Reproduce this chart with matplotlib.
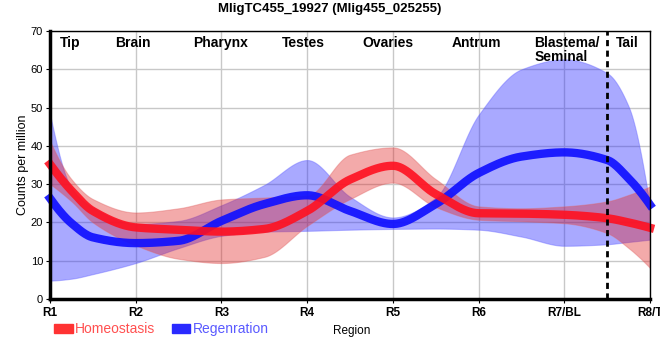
import numpy as np
import matplotlib
matplotlib.use("Agg")
import matplotlib.pyplot as plt
from matplotlib.patches import Patch

plt.rcParams['font.family'] = ['Liberation Sans', 'DejaVu Sans']

# positions along the body (1 = R1 ... 8 = R8/T)
pos = [1, 1.25, 1.5, 2, 2.5, 3, 3.5, 4, 4.5, 5, 5.5, 6, 6.5, 7, 7.5, 7.75, 8]

homeo_mean = [35.2, 28.3, 23.0, 18.7, 18.1, 17.6, 18.3, 23.0, 31.2, 34.8, 27.4,
              22.4, 22.3, 22.0, 21.1, 20.0, 18.6]
homeo_hi = [41.3, 31.3, 26.1, 22.6, 23.7, 26.0, 26.5, 27.0, 37.7, 39.6, 31.3,
            24.2, 23.7, 24.2, 25.5, 27.2, 29.4]
homeo_lo = [30.0, 25.5, 20.0, 14.0, 10.5, 9.4, 11.0, 19.1, 26.1, 30.4, 24.0,
            20.7, 20.3, 19.8, 17.2, 13.3, 8.1]

regen_mean = [26.3, 19.8, 16.1, 14.6, 15.2, 20.4, 24.8, 27.1, 23.0, 19.6, 24.8,
              32.9, 37.2, 38.3, 36.3, 31.5, 24.6]
regen_hi = [48.3, 29.0, 23.9, 19.6, 20.4, 24.5, 29.8, 36.3, 26.7, 21.3, 26.5,
            48.1, 60.0, 62.6, 59.0, 50.3, 24.2]
regen_lo = [4.8, 5.3, 6.5, 9.4, 13.3, 16.5, 17.6, 17.8, 18.1, 18.3, 18.4,
            18.1, 16.3, 13.9, 14.3, 14.9, 15.5]

tick_labels = ['R1', 'R2', 'R3', 'R4', 'R5', 'R6', 'R7/BL', 'R8/T']
regions = ['Tip', 'Brain', 'Pharynx', 'Testes', 'Ovaries', 'Antrum', 'Blastema/\nSeminal', 'Tail']
region_x = [1.23, 1.97, 2.99, 3.96, 4.94, 5.98, 7.0, 7.73]


def pchip(x, y, xn):
    # monotone cubic (Fritsch-Carlson) so the curves stay smooth like the original
    x = np.asarray(x, float)
    y = np.asarray(y, float)
    h = np.diff(x)
    d = np.diff(y) / h
    m = np.zeros_like(y)
    for k in range(1, len(x) - 1):
        if d[k - 1] * d[k] > 0:
            w1 = 2 * h[k] + h[k - 1]
            w2 = h[k] + 2 * h[k - 1]
            m[k] = (w1 + w2) / (w1 / d[k - 1] + w2 / d[k])
    m[0] = ((2 * h[0] + h[1]) * d[0] - h[0] * d[1]) / (h[0] + h[1])
    if np.sign(m[0]) != np.sign(d[0]):
        m[0] = 0
    m[-1] = ((2 * h[-1] + h[-2]) * d[-1] - h[-1] * d[-2]) / (h[-1] + h[-2])
    if np.sign(m[-1]) != np.sign(d[-1]):
        m[-1] = 0
    i = np.clip(np.searchsorted(x, xn) - 1, 0, len(x) - 2)
    t = (xn - x[i]) / h[i]
    h00 = 2 * t**3 - 3 * t**2 + 1
    h10 = t**3 - 2 * t**2 + t
    h01 = -2 * t**3 + 3 * t**2
    h11 = t**3 - t**2
    return h00 * y[i] + h10 * h[i] * m[i] + h01 * y[i + 1] + h11 * h[i] * m[i + 1]


xs = np.linspace(1, 8, 600)

fig = plt.figure(figsize=(6.6, 3.6), dpi=100)
ax = fig.add_axes([0.0758, 0.1694, 0.9091, 0.7445])

ax.fill_between(xs, pchip(pos, regen_lo, xs), pchip(pos, regen_hi, xs),
                color='#2828ff', alpha=0.4, lw=0.8, edgecolor='#6060ff')
ax.fill_between(xs, pchip(pos, homeo_lo, xs), pchip(pos, homeo_hi, xs),
                color='#e02020', alpha=0.38, lw=0.8, edgecolor='#e06060')
ax.plot(xs, pchip(pos, regen_mean, xs), color='#1010ff', lw=6, alpha=0.92,
        solid_capstyle='projecting', clip_on=False)
ax.plot(xs, pchip(pos, homeo_mean, xs), color='#ff1020', lw=6, alpha=0.9,
        solid_capstyle='projecting', clip_on=False)

ax.axvline(7.5, color='black', lw=2, ls=(0, (2.2, 1.6)))

ax.set_xlim(1, 8)
ax.set_ylim(0, 70)
ax.set_xticks(range(1, 9))
ax.set_xticklabels(tick_labels, fontsize=8.5, fontweight='bold')
ax.set_yticks(range(0, 71, 10))
ax.tick_params(axis='y', labelsize=8, length=3, pad=2)
ax.tick_params(axis='x', length=3, pad=3)
ax.grid(True, color='#c8c8c8', lw=1)
ax.set_axisbelow(True)

for side in ['left', 'bottom']:
    ax.spines[side].set_linewidth(2.5)
for side in ['top', 'right']:
    ax.spines[side].set_linewidth(1)

ax.set_ylabel('Counts per million', fontsize=9, labelpad=1)

for name, xr in zip(regions, region_x):
    if '\n' in name:
        ax.text(xr - 0.35, 68.6, name, ha='left', va='top', fontsize=10,
                fontweight='bold', linespacing=0.95)
    else:
        ax.text(xr, 68.6, name, ha='center', va='top', fontsize=10, fontweight='bold')

fig.text(0.5, 0.975, 'MligTC455_19927 (Mlig455_025255)', ha='center', va='center',
         fontsize=9.5, fontweight='bold')
fig.text(0.533, 0.081, 'Region', ha='center', va='center', fontsize=8.5)

handles = [Patch(color='#ff3333'), Patch(color='#2a2aff')]
leg = fig.legend(handles, ['Homeostasis', 'Regenration'], loc='center left',
                 bbox_to_anchor=(0.072, 0.085), ncol=2, frameon=False, fontsize=10,
                 handlelength=1.3, handleheight=0.6, handletextpad=0.2,
                 columnspacing=1.2, borderpad=0)
for txt, c in zip(leg.get_texts(), ['#ff5050', '#5a5aff']):
    txt.set_color(c)

fig.savefig('out.png', dpi=100)
